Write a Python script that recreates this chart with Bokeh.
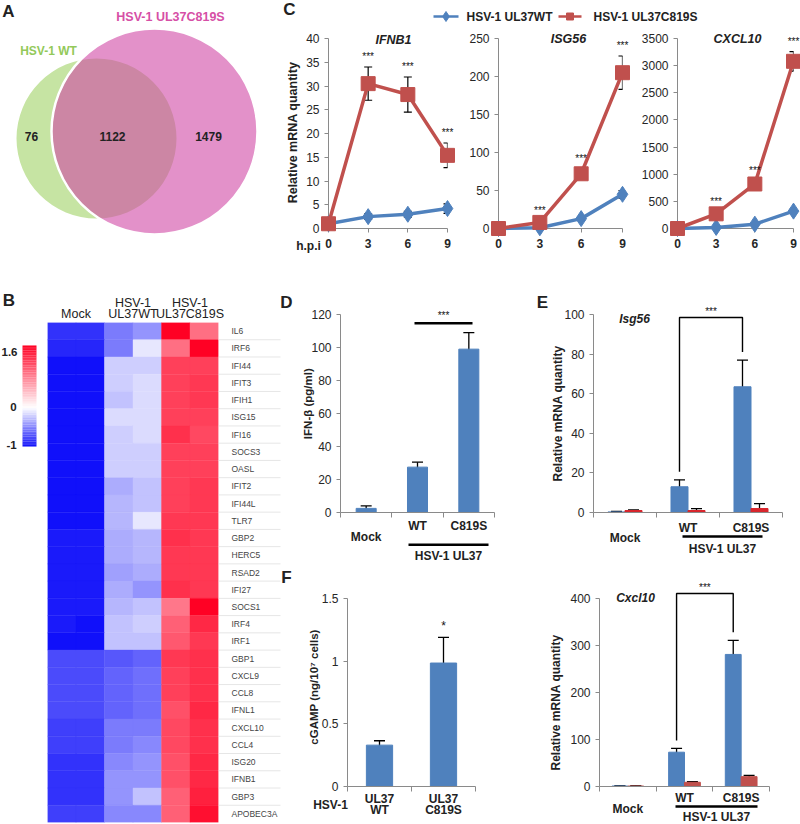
import numpy as np
from bokeh.plotting import figure
from bokeh.layouts import row, column
from bokeh.models import (Range1d, ColumnDataSource, Whisker, TeeHead,
                          FixedTicker, LinearColorMapper, NumeralTickFormatter)
from bokeh.transform import transform
from bokeh.core.properties import value
from bokeh.embed import file_html
from bokeh.resources import INLINE

# ---------------- data ----------------
venn_names = ["HSV-1 WT", "HSV-1 UL37C819S"]
venn_counts = [76, 1122, 1479]          # WT only, shared, C819S only

hpi = [0, 3, 6, 9]
ifnb1_wt = [1.0, 2.5, 3.0, 4.2]
ifnb1_wt_err = [0.3, 0.6, 0.6, 1.0]
ifnb1_mut = [1.0, 30.5, 28.2, 15.4]
ifnb1_mut_err = [0.0, 3.5, 3.7, 2.6]
isg56_wt = [0.0, 1.0, 13.0, 45.0]
isg56_wt_err = [0.0, 0.5, 2.0, 5.0]
isg56_mut = [0.0, 8.0, 72.0, 205.0]
isg56_mut_err = [0.0, 1.5, 6.0, 22.0]
cxcl10_wt = [0.0, 20.0, 80.0, 320.0]
cxcl10_wt_err = [0.0, 5.0, 15.0, 35.0]
cxcl10_mut = [0.0, 270.0, 820.0, 3080.0]
cxcl10_mut_err = [0.0, 25.0, 60.0, 180.0]

heat_groups = ["Mock", "HSV-1\nUL37WT", "HSV-1\nUL37C819S"]
genes = ["IL6", "IRF6", "IFI44", "IFIT3", "IFIH1", "ISG15", "IFI16", "SOCS3", "OASL",
         "IFIT2", "IFI44L", "TLR7", "GBP2", "HERC5", "RSAD2", "IFI27", "SOCS1", "IRF4",
         "IRF1", "GBP1", "CXCL9", "CCL8", "IFNL1", "CXCL10", "CCL4", "ISG20", "IFNB1",
         "GBP3", "APOBEC3A"]
heat = [
    [-0.85, -0.85, -0.55, -0.45, 1.60, 0.90],
    [-0.90, -0.90, -0.55, -0.10, 0.90, 1.60],
    [-1.00, -1.00, -0.20, -0.20, 1.20, 1.20],
    [-1.00, -1.00, -0.20, -0.15, 1.20, 1.25],
    [-1.00, -1.00, -0.25, -0.15, 1.20, 1.25],
    [-1.00, -1.00, -0.15, -0.15, 1.20, 1.20],
    [-1.00, -1.00, -0.20, -0.15, 1.30, 1.15],
    [-1.00, -1.00, -0.20, -0.20, 1.20, 1.20],
    [-1.00, -1.00, -0.20, -0.20, 1.20, 1.20],
    [-1.00, -1.00, -0.35, -0.25, 1.20, 1.25],
    [-1.00, -1.00, -0.30, -0.25, 1.20, 1.25],
    [-1.00, -1.00, -0.30, -0.10, 1.25, 1.25],
    [-0.95, -0.95, -0.35, -0.30, 1.30, 1.25],
    [-0.95, -0.95, -0.35, -0.30, 1.25, 1.25],
    [-0.95, -0.95, -0.40, -0.35, 1.25, 1.25],
    [-0.95, -0.95, -0.35, -0.45, 1.30, 1.25],
    [-0.95, -0.95, -0.30, -0.25, 0.85, 1.60],
    [-0.95, -1.00, -0.25, -0.20, 1.00, 1.35],
    [-1.00, -1.00, -0.25, -0.25, 1.05, 1.25],
    [-0.75, -0.75, -0.70, -0.65, 1.25, 1.30],
    [-0.75, -0.75, -0.65, -0.60, 1.20, 1.30],
    [-0.75, -0.75, -0.65, -0.60, 1.20, 1.30],
    [-0.75, -0.75, -0.65, -0.60, 1.10, 1.35],
    [-0.80, -0.80, -0.55, -0.55, 1.15, 1.30],
    [-0.80, -0.80, -0.55, -0.50, 1.15, 1.30],
    [-0.85, -0.85, -0.50, -0.45, 1.10, 1.35],
    [-0.85, -0.85, -0.45, -0.45, 1.10, 1.35],
    [-0.85, -0.85, -0.45, -0.25, 1.00, 1.40],
    [-0.80, -0.80, -0.50, -0.50, 1.00, 1.50],
]
heat_low, heat_high = -1.0, 1.6

ifnb_cats = ["Mock", "WT", "C819S"]
ifnb_pg = [2.5, 27.5, 99.0]
ifnb_pg_err = [1.5, 3.0, 10.0]

isg56_cats = ["Mock", "WT", "C819S"]
isg56_blue = [0.3, 13.0, 63.5]
isg56_blue_err = [0.2, 3.5, 13.5]
isg56_red = [1.0, 1.0, 2.0]
isg56_red_err = [0.3, 1.0, 2.5]

cx_cats = ["Mock", "WT", "C819S"]
cx_blue = [1.0, 73.0, 281.0]
cx_blue_err = [0.5, 8.0, 30.0]
cx_red = [1.0, 9.0, 21.0]
cx_red_err = [0.5, 1.5, 2.5]

cgamp_cats = [("UL37", "WT"), ("UL37", "C819S")]
cgamp = [0.33, 0.985]
cgamp_err = [0.035, 0.205]

# ---------------- style / geometry ----------------
SX = 1.0
SY = 1.0
FONT = "Liberation Sans"
BLUE = "#4f81bd"
RED = "#c0504d"
RED2 = "#d8262d"
AXC = "#8a8a8a"
TXT = "#222222"


def X(v):
    return int(round(v * SX))


def Y(v):
    return int(round(v * SY))


def make_fig(rect, frame, xr, yr, **kw):
    x0, y0, x1, y1 = rect
    l, t, r, b = frame
    p = figure(width=X(x1) - X(x0), height=Y(y1) - Y(y0),
               x_range=Range1d(*xr), y_range=Range1d(*yr),
               output_backend="svg", toolbar_location=None, title=None,
               min_border_left=X(l) - X(x0), min_border_right=X(x1) - X(r),
               min_border_top=Y(t) - Y(y0), min_border_bottom=Y(y1) - Y(b), **kw)
    p.outline_line_color = None
    p.xgrid.visible = False
    p.ygrid.visible = False
    p.border_fill_color = "white"
    p.background_fill_color = "white"
    FL, FR, FT, FB = X(l), X(r), Y(t), Y(b)

    def td(px, py):
        dx = xr[0] + (px * SX - FL) / (FR - FL) * (xr[1] - xr[0])
        dy = yr[0] + (FB - py * SY) / (FB - FT) * (yr[1] - yr[0])
        return dx, dy

    def ppu_y():
        return (FB - FT) / (yr[1] - yr[0])

    td.ppu_y = ppu_y
    return p, td


def lab(p, x, y, text, size="12px", style="bold", color=TXT, align="center",
        baseline="middle", angle=0.0, y_offset=0):
    p.text(x=[x], y=[y], text=[text], text_font=value(FONT), text_font_size=value(size),
           text_font_style=value(style), text_color=color, text_align=value(align),
           text_baseline=value(baseline), angle=angle, y_offset=y_offset, level="overlay")


def labp(p, td, px, py, text, **kw):
    x, y = td(px, py)
    lab(p, x, y, text, **kw)


def style_y(ax, ticks, size="12px"):
    ax.ticker = FixedTicker(ticks=ticks)
    ax.axis_line_color = AXC
    ax.major_tick_line_color = AXC
    ax.major_tick_in = 0
    ax.major_tick_out = 4
    ax.minor_tick_line_color = None
    ax.major_label_text_font = FONT
    ax.major_label_text_font_size = size
    ax.major_label_text_color = "#262626"
    ax.major_label_standoff = 5


def style_cat_x(ax, n):
    ax.ticker = FixedTicker(ticks=[], minor_ticks=list(range(n + 1)))
    ax.axis_line_color = AXC
    ax.minor_tick_line_color = AXC
    ax.minor_tick_in = 0
    ax.minor_tick_out = 5
    ax.major_tick_line_color = None


def whisk(p, xs, vals, errs, size=10, width=1.3):
    idx = [k for k in range(len(vals)) if errs[k] > 0]
    src = ColumnDataSource(dict(x=[xs[k] for k in idx],
                                up=[vals[k] + errs[k] for k in idx],
                                lo=[vals[k] - errs[k] for k in idx]))
    p.add_layout(Whisker(source=src, base="x", upper="up", lower="lo",
                         line_color="black", line_width=width,
                         upper_head=TeeHead(size=size, line_color="black", line_width=width),
                         lower_head=TeeHead(size=size, line_color="black", line_width=width)))


# ---------------- A: Venn ----------------
pA, tdA = make_fig((0, 0, 270, 265), (0, 0, 270, 265), (0, 270), (265, 0),
                   x_axis_location=None, y_axis_location=None)
pA.circle(x=[96], y=[138], radius=80, fill_color="#c6e4a3", line_color=None)
pA.circle(x=[154], y=[131], radius=103, fill_color="#d048a5", fill_alpha=0.6,
          line_color="white", line_width=2.5)
lab(pA, 8, 11, "A", size="17px")
lab(pA, 48, 50, venn_names[0], color="#93c95a", size="12px")
lab(pA, 170, 16, venn_names[1], color="#d64fa6", size="12.5px")
lab(pA, 31, 136, str(venn_counts[0]))
lab(pA, 112, 136, str(venn_counts[1]))
lab(pA, 208, 136, str(venn_counts[2]))

# ---------------- C legend ----------------
pL, tdL = make_fig((270, 0, 800, 32), (270, 0, 800, 32), (270, 800), (32, 0),
                   x_axis_location=None, y_axis_location=None)
lab(pL, 289, 9, "C", size="17px")
pL.line(x=[433, 458], y=[16, 16], line_color=BLUE, line_width=2.5)
pL.scatter(x=[445.5], y=[16], marker="diamond", size=10, color=BLUE)
lab(pL, 466, 16, "HSV-1 UL37WT", align="left")
pL.line(x=[558, 581], y=[16, 16], line_color=RED, line_width=2.5)
pL.scatter(x=[569.5], y=[16], marker="square", size=7, color=RED)
lab(pL, 593, 16, "HSV-1 UL37C819S", align="left")


def c_panel(rect, frame, ymax, ystep, wt, wt_err, mut, mut_err, title, title_px):
    p, td = make_fig(rect, frame, (0, 9), (0, ymax))
    style_y(p.yaxis[0], list(range(0, ymax + 1, ystep)))
    ax = p.xaxis[0]
    ax.ticker = FixedTicker(ticks=hpi)
    ax.axis_line_color = AXC
    ax.major_tick_line_color = AXC
    ax.major_tick_in = 0
    ax.major_tick_out = 4
    ax.minor_tick_line_color = None
    ax.major_label_text_font = FONT
    ax.major_label_text_font_size = "12px"
    ax.major_label_text_font_style = "bold"
    ax.major_label_text_color = "#262626"
    ax.major_label_standoff = 6
    whisk(p, hpi, wt, wt_err, size=8, width=1.2)
    whisk(p, hpi, mut, mut_err, size=8, width=1.2)
    p.line(hpi, wt, line_color=BLUE, line_width=3.5, level="overlay")
    p.scatter(hpi, wt, marker="diamond", size=16, color=BLUE, level="overlay")
    p.line(hpi, mut, line_color=RED, line_width=3.5, level="overlay")
    p.scatter(hpi, mut, marker="square", size=14, color=RED, level="overlay")
    for k in (1, 2, 3):
        lab(p, hpi[k], mut[k] + mut_err[k], "***", size="10px", style="normal",
            color="#111111", baseline="bottom", y_offset=-5)
    labp(p, td, title_px[0], title_px[1], title, style="bold italic", size="12.5px")
    return p, td


pC1, tdC1 = c_panel((270, 32, 458, 265), (328, 38, 447, 228), 40, 5,
                    ifnb1_wt, ifnb1_wt_err, ifnb1_mut, ifnb1_mut_err, "IFNB1", (393, 39))
labp(pC1, tdC1, 292, 132, "Relative mRNA quantity", size="12.5px", angle=np.pi / 2)
labp(pC1, tdC1, 308, 245, "h.p.i")
pC2, tdC2 = c_panel((458, 32, 638, 265), (498, 38, 622, 228), 250, 50,
                    isg56_wt, isg56_wt_err, isg56_mut, isg56_mut_err, "ISG56", (568, 38))
pC3, tdC3 = c_panel((638, 32, 800, 265), (677, 38, 793, 228), 3500, 500,
                    cxcl10_wt, cxcl10_wt_err, cxcl10_mut, cxcl10_mut_err, "CXCL10", (737, 38))

# ---------------- B: heatmap ----------------
pB, tdB = make_fig((0, 265, 300, 824), (47, 322, 218, 822), (-0.5, 5.5), (28.5, -0.5),
                   x_axis_location=None, y_axis_location="right")
blue_c = np.array([15, 15, 250], float)
white_c = np.array([255, 255, 255], float)
red_c = np.array([255, 0, 35], float)
palette = []
for i in range(256):
    v = heat_low + (heat_high - heat_low) * (i + 0.5) / 256
    if v < 0:
        t = (v - heat_low) / (0 - heat_low)
        c = blue_c + (white_c - blue_c) * t
    else:
        t = v / heat_high
        c = white_c + (red_c - white_c) * t
    palette.append("#%02x%02x%02x" % tuple(int(round(q)) for q in c))
mapper = LinearColorMapper(palette=palette, low=heat_low, high=heat_high)
hx, hy, hv = [], [], []
for i, g in enumerate(genes):
    for j in range(6):
        hx.append(j)
        hy.append(i)
        hv.append(heat[i][j])
pB.rect(x="x", y="y", width=1, height=1, source=ColumnDataSource(dict(x=hx, y=hy, v=hv)),
        fill_color=transform("v", mapper), line_color=transform("v", mapper), line_width=0.4)
ay = pB.yaxis[0]
ay.ticker = FixedTicker(ticks=list(range(len(genes))))
ay.major_label_overrides = {i: g for i, g in enumerate(genes)}
ay.axis_line_color = None
ay.major_tick_line_color = None
ay.minor_tick_line_color = None
ay.major_label_text_font = FONT
ay.major_label_text_font_size = "8.5px"
ay.major_label_text_color = "#444444"
ay.major_label_standoff = 7
# separators next to gene labels
sx1, _ = tdB(280, 0)
nsep = len(genes) - 1
pB.segment(x0=[5.5] * nsep, x1=[sx1] * nsep,
           y0=[i + 0.5 for i in range(nsep)], y1=[i + 0.5 for i in range(nsep)],
           line_color="#e6e6e6", line_width=1, level="overlay")
# group headers
_, yh1 = tdB(0, 302)
_, yh2 = tdB(0, 313)
lab(pB, 0.5, yh2, heat_groups[0], style="normal", size="12.5px")
for gi, xc in ((1, 2.5), (2, 4.5)):
    top, bot = heat_groups[gi].split("\n")
    lab(pB, xc, yh1, top, style="normal", size="12.5px")
    lab(pB, xc, yh2, bot, style="normal", size="12.5px")
# colour bar
nslice = 60
cbx, _ = tdB(29, 0)
cbx0, _ = tdB(22, 0)
cbx1, _ = tdB(36, 0)
_, cb_top = tdB(0, 345)
_, cb_bot = tdB(0, 446)
cv = [heat_low + (heat_high - heat_low) * (k + 0.5) / nslice for k in range(nslice)]
cy = [cb_bot + (cb_top - cb_bot) * (k + 0.5) / nslice for k in range(nslice)]
cb_src = ColumnDataSource(dict(x=[cbx] * nslice, y=cy, v=cv))
pB.rect(x="x", y="y", width=cbx1 - cbx0, height=abs(cb_top - cb_bot) / nslice * 1.05,
        source=cb_src, fill_color=transform("v", mapper), line_color=None, level="overlay")
labp(pB, tdB, 9, 351, "1.6", size="11.5px")
labp(pB, tdB, 13, 406, "0", size="11.5px")
labp(pB, tdB, 11, 444, "-1", size="11.5px")
labp(pB, tdB, 8.5, 300, "B", size="17px")
labp(pB, tdB, 286, 302, "D", size="17px")
labp(pB, tdB, 286, 577, "F", size="17px")

# ---------------- D: IFN-beta ELISA ----------------
SPLIT = 566
pD, tdD = make_fig((300, 265, 496, SPLIT), (340, 311, 494, 513), (0, 3), (0, 120))
style_y(pD.yaxis[0], list(range(0, 121, 20)))
style_cat_x(pD.xaxis[0], 3)
xd = [k + 0.5 for k in range(3)]
pD.vbar(x=xd, top=ifnb_pg, width=0.39, color=BLUE)
whisk(pD, xd, ifnb_pg, ifnb_pg_err, size=11)
x0, y0 = tdD(414, 320)
x1, _ = tdD(472, 320)
pD.segment(x0=[x0], x1=[x1], y0=[y0], y1=[y0], line_color="black", line_width=2.5, level="overlay")
labp(pD, tdD, 443, 312, "***", size="10px", style="normal", color="#111111")
_, ylab = tdD(0, 527)
_, ymock = tdD(0, 538)
lab(pD, xd[1], ylab, ifnb_cats[1])
lab(pD, xd[2], ylab, ifnb_cats[2])
lab(pD, xd[0], ymock, ifnb_cats[0])
ux0, uy = tdD(408, 546)
ux1, _ = tdD(488, 546)
pD.segment(x0=[ux0], x1=[ux1], y0=[uy], y1=[uy], line_color="black", line_width=2.5, level="overlay")
labp(pD, tdD, 448, 557, "HSV-1 UL37")
labp(pD, tdD, 307, 402, "IFN-β (pg/ml)", size="11.5px", angle=np.pi / 2)


def grouped_panel(rect, frame, ymax, ystep, blue, blue_err, red, red_err, red_col, off, bw,
                  gene, gene_px, top_px, lab_y, mock_y, under, hsv_px, ytitle_px, cats, letter=None):
    p, td = make_fig(rect, frame, (0, 3), (0, ymax))
    style_y(p.yaxis[0], list(range(0, ymax + 1, ystep)))
    style_cat_x(p.xaxis[0], 3)
    xb = [k + 0.5 - off for k in range(3)]
    xr = [k + 0.5 + off for k in range(3)]
    p.vbar(x=xb, top=blue, width=bw, color=BLUE)
    p.vbar(x=xr, top=red, width=bw, color=red_col)
    whisk(p, xb, blue, blue_err, size=11)
    whisk(p, xr, red, red_err, size=11)
    pad = 8 / td.ppu_y()
    _, ytop = td(0, top_px)
    yl = blue[1] + blue_err[1] + pad
    yr = blue[2] + blue_err[2] + pad
    p.line(x=[xb[1], xb[1], xb[2], xb[2]], y=[yl, ytop, ytop, yr],
           line_color="black", line_width=1.4, level="overlay")
    lab(p, (xb[1] + xb[2]) / 2, ytop, "***", size="10px", style="normal", color="#111111",
        baseline="bottom", y_offset=-1)
    labp(p, td, gene_px[0], gene_px[1], gene, style="bold italic", size="12px")
    _, yl_ = td(0, lab_y)
    _, ym_ = td(0, mock_y)
    lab(p, 1.5, yl_, cats[1])
    lab(p, 2.5, yl_, cats[2])
    lab(p, 0.5, ym_, cats[0])
    ux0, uy = td(under[0], under[2])
    ux1, _ = td(under[1], under[2])
    p.segment(x0=[ux0], x1=[ux1], y0=[uy], y1=[uy], line_color="black", line_width=2.5, level="overlay")
    labp(p, td, hsv_px[0], hsv_px[1], "HSV-1 UL37")
    labp(p, td, ytitle_px[0], ytitle_px[1], "Relative mRNA quantity", size="12px", angle=np.pi / 2)
    if letter:
        labp(p, td, letter[1], letter[2], letter[0], size="17px")
    return p


pE1 = grouped_panel((496, 265, 800, SPLIT), (593, 314, 782, 512), 100, 20,
                    isg56_blue, isg56_blue_err, isg56_red, isg56_red_err, RED2, 0.135, 0.27,
                    "Isg56", (634, 318), 317, 527, 537, (682, 762, 536), (722, 548), (557, 413),
                    isg56_cats, letter=("E", 542, 302))
pE2 = grouped_panel((496, SPLIT, 800, 824), (599, 598, 769, 786), 400, 100,
                    cx_cats and cx_blue, cx_blue_err, cx_red, cx_red_err, RED, 0.14, 0.28,
                    "Cxcl10", (635, 597), 593, 797, 808, (675, 757, 806), (716, 816), (555, 702),
                    cx_cats)

# ---------------- F: cGAMP ----------------
pF, tdF = make_fig((300, SPLIT, 496, 824), (347, 586, 475, 792), (0, 2), (0, 1.5))
style_y(pF.yaxis[0], [0, 0.5, 1.0, 1.5])
pF.yaxis[0].formatter = NumeralTickFormatter(format="0.[0]")
style_cat_x(pF.xaxis[0], 2)
xf = [0.5, 1.5]
pF.vbar(x=xf, top=cgamp, width=0.41, color=BLUE)
whisk(pF, xf, cgamp, cgamp_err, size=11)
lab(pF, xf[1], cgamp[1] + cgamp_err[1], "*", size="12px", style="normal", color="#111111",
    baseline="bottom", y_offset=-4)
_, yu = tdF(0, 806)
_, yw = tdF(0, 818)
for k in range(2):
    lab(pF, xf[k], yu, cgamp_cats[k][0])
    lab(pF, xf[k], yw, cgamp_cats[k][1])
labp(pF, tdF, 330, 812, "HSV-1")
labp(pF, tdF, 313, 683, "cGAMP (ng/10⁷ cells)", size="11.5px", angle=np.pi / 2)

layout = column(
    row(pA, column(pL, row(pC1, pC2, pC3))),
    row(pB, column(row(pD, pE1), row(pF, pE2))),
)

open("out.html", "w").write(file_html(layout, INLINE))
